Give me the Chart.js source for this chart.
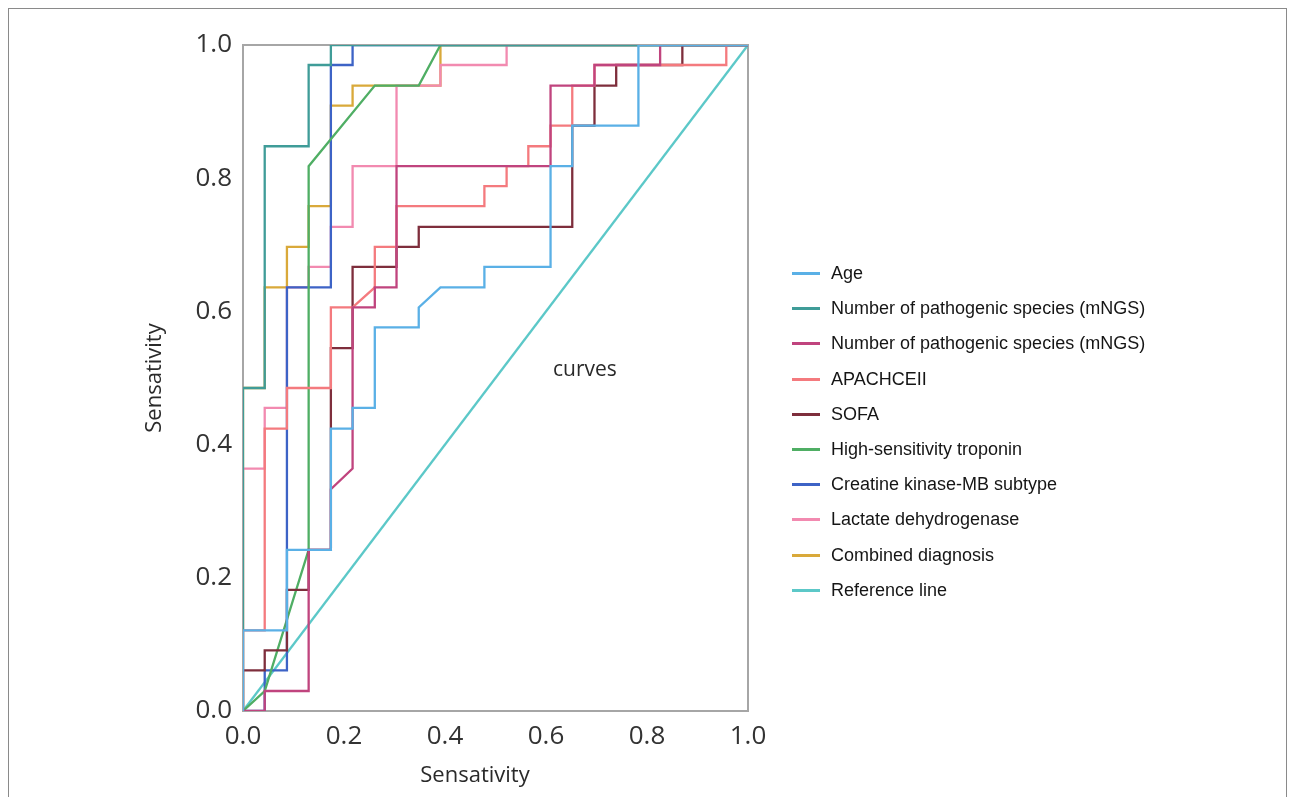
<!DOCTYPE html>
<html>
<head>
<meta charset="utf-8">
<script src="https://cdn.jsdelivr.net/npm/chart.js@4.4.1/dist/chart.umd.min.js"></script>
<style>
  html, body { margin: 0; padding: 0; background: #fff; }
  #frame { position: absolute; left: 8px; top: 8px; width: 1279px; height: 800px; border: 1px solid #8a8a8a; box-sizing: border-box; }
  #wrap { position: absolute; left: 0; top: 0; width: 1294px; height: 797px; }
  #legend { position: absolute; left: 792px; top: 256px; font-family: "Liberation Sans", Arial, sans-serif; font-size: 18px; color: #151515; }
  .row { height: 35.2px; display: flex; align-items: center; }
  .swatch { width: 28px; height: 3px; margin-right: 11px; }
</style>
</head>
<body>
<div id="frame"></div>
<div id="wrap"><canvas id="roc"></canvas></div>
<div id="legend"></div>
<script>
// ROC curves, points as [1 - specificity, sensitivity]
const labels = ['Age', 'Number of pathogenic species (mNGS)', 'Number of pathogenic species (mNGS)',
    'APACHCEII', 'SOFA', 'High-sensitivity troponin', 'Creatine kinase-MB subtype',
    'Lactate dehydrogenase', 'Combined diagnosis', 'Reference line'];
const colors = ['#5ab0e6', '#3f9c98', '#c0447e', '#f47a7e', '#7e2e3c', '#4fae64',
    '#3d63c6', '#f28ab0', '#d9a93a', '#5cc8c8'];

const age = [[0,0],[0,.121],[.087,.121],[.087,.242],[.174,.242],[.174,.424],[.217,.424],[.217,.455],
    [.261,.455],[.261,.576],[.348,.576],[.348,.606],[.391,.636],[.478,.636],[.478,.667],[.609,.667],
    [.609,.818],[.652,.818],[.652,.879],[.783,.879],[.783,1],[1,1]];
const species1 = [[0,0],[0,.485],[.043,.485],[.043,.848],[.130,.848],[.130,.970],[.174,.970],[.174,1],[1,1]];
const species2 = [[0,0],[.043,0],[.043,.030],[.130,.030],[.130,.242],[.174,.242],[.174,.333],[.217,.364],
    [.217,.606],[.261,.606],[.261,.636],[.304,.636],[.304,.818],[.609,.818],[.609,.939],[.696,.939],
    [.696,.970],[.826,.970],[.826,1],[1,1]];
const apache = [[0,0],[0,.121],[.043,.121],[.043,.424],[.087,.424],[.087,.485],[.174,.485],[.174,.606],
    [.217,.606],[.261,.636],[.261,.697],[.304,.697],[.304,.758],[.478,.758],[.478,.788],[.522,.788],
    [.522,.818],[.565,.818],[.565,.848],[.609,.848],[.609,.879],[.652,.879],[.652,.939],[.696,.939],
    [.696,.970],[.957,.970],[.957,1],[1,1]];
const sofa = [[0,0],[0,.061],[.043,.061],[.043,.091],[.087,.091],[.087,.182],[.130,.182],[.130,.242],
    [.174,.242],[.174,.545],[.217,.545],[.217,.667],[.304,.667],[.304,.697],[.348,.697],[.348,.727],
    [.652,.727],[.652,.879],[.696,.879],[.696,.939],[.739,.939],[.739,.970],[.870,.970],[.870,1],[1,1]];
const troponin = [[0,0],[.043,.030],[.130,.242],[.130,.818],[.261,.939],[.348,.939],[.391,1],[1,1]];
const ckmb = [[0,0],[.043,0],[.043,.061],[.087,.061],[.087,.636],[.174,.636],[.174,.970],[.217,.970],[.217,1],[1,1]];
const ldh = [[0,0],[0,.364],[.043,.364],[.043,.455],[.087,.455],[.087,.636],[.130,.636],[.130,.667],
    [.174,.667],[.174,.727],[.217,.727],[.217,.818],[.304,.818],[.304,.939],[.391,.939],[.391,.970],
    [.522,.970],[.522,1],[1,1]];
const combined = [[0,0],[0,.485],[.043,.485],[.043,.636],[.087,.636],[.087,.697],[.130,.697],[.130,.758],
    [.174,.758],[.174,.909],[.217,.909],[.217,.939],[.391,.939],[.391,1],[1,1]];
const reference = [[0,0],[1,1]];

const series = [age, species1, species2, apache, sofa, troponin, ckmb, ldh, combined, reference];
const xTicks = [0, 0.2, 0.4, 0.6, 0.8, 1.0];
const xTitle = 'Sensativity';
const yTitle = 'Sensativity';
const note = 'curves';

const tickFont = { family: '"Open Sans", "Noto Sans", sans-serif', size: 26 };

// frame round the plot area, x title and the stray "curves" label
const extras = {
    id: 'extras',
    beforeDatasetsDraw(chart) {
        const { ctx, chartArea: a } = chart;
        ctx.save();
        ctx.strokeStyle = '#a6a6a6';
        ctx.lineWidth = 2;
        ctx.strokeRect(a.left, a.top, a.right - a.left, a.bottom - a.top);
        ctx.restore();
    },
    afterDraw(chart) {
        const { ctx, chartArea: a, scales } = chart;
        ctx.save();
        ctx.fillStyle = '#2a2a2a';
        ctx.textAlign = 'center';
        ctx.textBaseline = 'middle';
        ctx.font = '22px "Open Sans", "Noto Sans", sans-serif';
        ctx.fillText(xTitle, a.left + 232, 776);
        ctx.font = '21px "Open Sans", "Noto Sans", sans-serif';
        ctx.fillText(note, scales.x.getPixelForValue(0.677), scales.y.getPixelForValue(0.512));
        ctx.restore();
    }
};

function run() {
    const datasets = series.map((pts, i) => ({
        label: labels[i],
        data: pts.map(p => ({ x: p[0], y: p[1] })),
        borderColor: colors[i],
        borderWidth: 2.3,
        pointRadius: 0,
        tension: 0,
        fill: false
    }));

    new Chart(document.getElementById('roc'), {
        type: 'line',
        data: { datasets: datasets },
        options: {
            responsive: true,
            maintainAspectRatio: false,
            animation: false,
            layout: { padding: { left: 140, top: 45, right: 546, bottom: 0 } },
            plugins: { legend: { display: false }, tooltip: { enabled: false } },
            scales: {
                x: {
                    type: 'linear', min: 0, max: 1,
                    afterBuildTicks: s => { s.ticks = xTicks.map(v => ({ value: v })); },
                    afterFit: s => { s.height = 86; },
                    ticks: { callback: v => v.toFixed(1), font: tickFont, color: '#333', padding: 10, maxRotation: 0 },
                    grid: { display: false, drawTicks: false },
                    border: { display: false }
                },
                y: {
                    type: 'linear', min: 0, max: 1,
                    afterBuildTicks: s => { s.ticks = xTicks.map(v => ({ value: v })); },
                    afterFit: s => { s.width = 103; },
                    ticks: { callback: v => v.toFixed(1), font: tickFont, color: '#333', padding: 11 },
                    grid: { display: false, drawTicks: false },
                    border: { display: false },
                    title: { display: true, text: yTitle, color: '#2a2a2a',
                        font: { family: '"Open Sans", "Noto Sans", sans-serif', size: 22 }, padding: 2 }
                }
            }
        },
        plugins: [extras]
    });

    const legend = document.getElementById('legend');
    labels.forEach((name, i) => {
        const row = document.createElement('div');
        row.className = 'row';
        const sw = document.createElement('span');
        sw.className = 'swatch';
        sw.style.background = colors[i];
        const txt = document.createElement('span');
        txt.textContent = name;
        row.appendChild(sw);
        row.appendChild(txt);
        legend.appendChild(row);
    });
}

document.addEventListener('DOMContentLoaded', run);
</script>
</body>
</html>
